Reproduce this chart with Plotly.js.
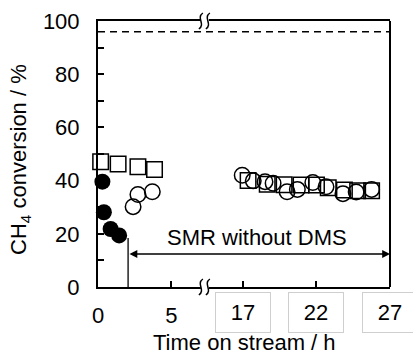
<!DOCTYPE html>
<html>
<head>
<meta charset="utf-8">
<script src="https://cdn.plot.ly/plotly-3.0.1.min.js"></script>
<style>html,body{margin:0;padding:0;background:#fff;}#chart{width:413px;height:355px;}</style>
</head>
<body>
<div id="chart"></div>
<script>
// Data (time on stream in h, CH4 conversion in %)
const filledX = [0.3, 0.4, 0.86, 1.44];
const filledY = [39.6, 28.1, 21.8, 19.4];

const openCircLeftX = [2.39, 2.72, 3.7];
const openCircLeftY = [30.2, 34.8, 35.8];
const openCircRightX = [16.95, 17.7, 18.5, 19.05, 20.0, 20.7, 21.75, 22.65, 23.8, 24.7, 25.75];
const openCircRightY = [42.0, 39.9, 39.6, 39.0, 35.8, 36.7, 39.3, 37.7, 35.1, 35.7, 36.7];

const squareLeftX = [0.18, 1.37, 2.72, 3.85];
const squareLeftY = [47.1, 46.2, 45.2, 44.2];
const squareRightX = [17.35, 18.65, 19.8, 20.95, 22.0, 22.8, 23.9, 24.8, 25.75];
const squareRightY = [40.0, 38.6, 38.4, 38.3, 38.3, 37.3, 36.5, 36.2, 36.2];

const equilibrium = 96;
const leftTicks = [0, 5];
const rightTicks = [17, 22, 27];
const switchTime = 2.05;
const switchTop = 18.4;
const arrowLevel = 12.4;
const labelText = 'SMR without DMS';

const FONT = 'Liberation Sans, Arial, sans-serif';
const FS = 22;
const split = 0.366;

const mk = (sym) => ({symbol: sym, size: 15.5, color: '#000', line: {color: '#000', width: 1.5}});

const traces = [
  {x: squareLeftX, y: squareLeftY, xaxis: 'x', yaxis: 'y', mode: 'markers', marker: mk('square-open'), cliponaxis: false},
  {x: squareRightX, y: squareRightY, xaxis: 'x2', yaxis: 'y', mode: 'markers', marker: mk('square-open'), cliponaxis: false},
  {x: openCircLeftX, y: openCircLeftY, xaxis: 'x', yaxis: 'y', mode: 'markers', marker: mk('circle-open'), cliponaxis: false},
  {x: openCircRightX, y: openCircRightY, xaxis: 'x2', yaxis: 'y', mode: 'markers', marker: mk('circle-open'), cliponaxis: false},
  {x: filledX, y: filledY, xaxis: 'x', yaxis: 'y', mode: 'markers', marker: {symbol: 'circle', size: 16, color: '#000'}, cliponaxis: false}
];

const breakShapes = [];
[0, 1].forEach(yy => {
  breakShapes.push({type: 'rect', xref: 'paper', yref: 'paper', xsizemode: 'pixel', ysizemode: 'pixel',
    xanchor: split, yanchor: yy, x0: -4, x1: 4, y0: -2, y1: 2, fillcolor: '#fff', line: {width: 0}});
  [-4, 3].forEach(dx => {
    breakShapes.push({type: 'path', xref: 'paper', yref: 'paper', xsizemode: 'pixel', ysizemode: 'pixel',
      xanchor: split, yanchor: yy,
      path: `M ${dx + 2},8 C ${dx - 5},3 ${dx + 5},-3 ${dx - 2},-8`,
      fillcolor: 'rgba(0,0,0,0)', line: {color: '#000', width: 1.5}});
  });
});

const layout = {
  width: 413, height: 355,
  margin: {l: 98, r: 23, t: 21, b: 68},
  paper_bgcolor: '#fff', plot_bgcolor: '#fff',
  showlegend: false,
  font: {family: FONT, size: FS, color: '#000'},
  xaxis: {domain: [0, split], range: [0, 7.28], anchor: 'y', showline: true, linewidth: 2, linecolor: '#000',
    mirror: true, ticks: 'inside', ticklen: 6, tickwidth: 2, tickcolor: '#000', tickvals: leftTicks,
    ticklabelstandoff: 8, showgrid: false, zeroline: false, tickfont: {family: FONT, size: FS}},
  xaxis2: {domain: [split, 1], range: [14.41, 27], anchor: 'y', showline: true, linewidth: 2, linecolor: '#000',
    mirror: true, ticks: 'inside', ticklen: 6, tickwidth: 2, tickcolor: '#000', tickvals: rightTicks,
    showticklabels: false, showgrid: false, zeroline: false},
  yaxis: {domain: [0, 1], range: [0, 100], anchor: 'x', showline: true, linewidth: 2, linecolor: '#000',
    ticks: 'inside', ticklen: 6, tickwidth: 2, tickcolor: '#000', dtick: 20,
    minor: {dtick: 10, ticks: 'inside', ticklen: 6, tickwidth: 2, tickcolor: '#000'},
    ticklabelstandoff: 12, showgrid: false, zeroline: false, tickfont: {family: FONT, size: FS}},
  shapes: [
    {type: 'line', xref: 'paper', yref: 'y', x0: 0, x1: 1, y0: equilibrium, y1: equilibrium,
      line: {color: '#000', width: 1.5, dash: '7px,5px'}},
    {type: 'line', xref: 'paper', yref: 'paper', x0: 1, x1: 1, y0: 0, y1: 1, line: {color: '#000', width: 2}},
    {type: 'line', xref: 'x', yref: 'y', x0: switchTime, x1: switchTime, y0: 0, y1: switchTop,
      line: {color: '#000', width: 1.3}},
    ...breakShapes
  ],
  annotations: [
    ...rightTicks.map(t => ({xref: 'x2', yref: 'paper', x: t, y: 0, yanchor: 'top', yshift: -5,
      text: String(t), showarrow: false, width: 52, height: 37, borderpad: 1,
      bordercolor: '#cfcfcf', borderwidth: 1, bgcolor: '#fff', font: {family: FONT, size: FS, color: '#000'}})),
    {xref: 'x2', yref: 'y', x: 17.96, y: switchTop + 0.2, text: labelText, showarrow: false,
      font: {family: FONT, size: FS, color: '#000'}},
    {xref: 'x2', yref: 'y', x: 27, y: arrowLevel, ax: -262, ay: 0, axref: 'pixel', ayref: 'pixel', text: '',
      showarrow: true, arrowside: 'end+start', arrowhead: 2, startarrowhead: 2, arrowsize: 1.2, startarrowsize: 1.2,
      arrowwidth: 1.3, arrowcolor: '#000'},
    {xref: 'paper', yref: 'paper', x: 0.5, y: 0, xanchor: 'center', yanchor: 'middle', yshift: -55,
      text: 'Time on stream / h', showarrow: false, font: {family: FONT, size: FS, color: '#000'}},
    {xref: 'paper', yref: 'paper', x: 0, y: 0.5, xanchor: 'center', yanchor: 'middle', xshift: -78, yshift: -6,
      textangle: -90, text: 'CH<sub>4</sub> conversion / %', showarrow: false,
      font: {family: FONT, size: FS, color: '#000'}}
  ]
};

Plotly.newPlot('chart', traces, layout, {displayModeBar: false, staticPlot: true});
</script>
</body>
</html>
